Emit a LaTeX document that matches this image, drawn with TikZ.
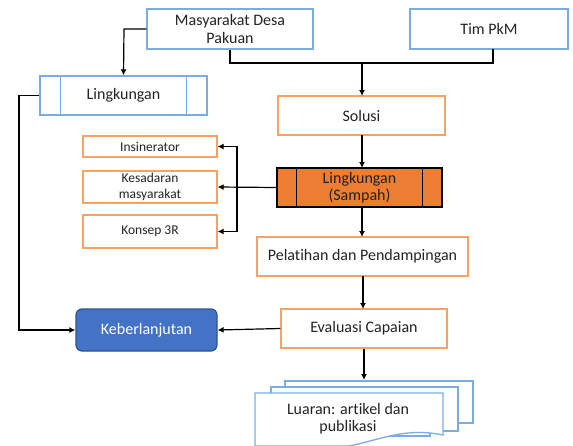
\documentclass[tikz,border=0pt]{standalone}
\usepackage{fontspec}
\setmainfont{Carlito}[Ligatures=NoCommon]
\usetikzlibrary{arrows.meta}
\definecolor{bblue}{RGB}{122,172,226}
\definecolor{borange}{RGB}{244,162,104}
\definecolor{forange}{RGB}{237,125,49}
\definecolor{fblue}{RGB}{68,114,196}
\definecolor{dblue}{RGB}{47,82,143}
\definecolor{txt}{RGB}{35,35,35}
\begin{document}
\begin{tikzpicture}[x=1pt,y=-1pt,
  every node/.style={text=txt,font=\fontsize{16}{17.5}\selectfont,align=center,inner sep=0pt},
  bluebox/.style={draw=bblue,line width=1.3pt,fill=white},
  orangebox/.style={draw=borange,line width=1.3pt,fill=white},
  smallbox/.style={orangebox,font=\fontsize{13.5}{15.5}\selectfont},
  conn/.style={draw=black,line width=1.2pt},
  arr/.style={conn,-{Latex[length=6pt,width=6pt]}}]
\useasboundingbox (0,0) rectangle (573,445);
\fill[white] (0,0) rectangle (573,445);

% top boxes
\node[bluebox,minimum width=166pt,minimum height=40pt] (mas) at (230,29) {Masyarakat Desa\\Pakuan};
\node[bluebox,minimum width=158pt,minimum height=40pt] (tim) at (489,29) {Tim PkM};
% Lingkungan (predefined process)
\node[bluebox,minimum width=167pt,minimum height=39pt] (ling) at (123.5,95.5) {Lingkungan};
\draw[bblue,line width=1.3pt] ([xshift=21pt]ling.north west) -- ([xshift=21pt]ling.south west)
  ([xshift=-21pt]ling.north east) -- ([xshift=-21pt]ling.south east);
% Solusi
\node[orangebox,minimum width=167pt,minimum height=39pt] (sol) at (361.5,115.5) {Solusi};
% Sampah
\node[draw=black,line width=1.2pt,fill=forange,minimum width=165pt,minimum height=39pt] (samp) at (359.5,187.5) {Lingkungan\\(Sampah)};
\draw[black,line width=1.2pt] ([xshift=20pt]samp.north west) -- ([xshift=20pt]samp.south west)
  ([xshift=-20pt]samp.north east) -- ([xshift=-20pt]samp.south east);
% small boxes
\node[smallbox,minimum width=134pt,minimum height=21pt] (ins) at (150,146.5) {Insinerator};
\node[smallbox,minimum width=134pt,minimum height=32pt] (kes) at (150,187) {Kesadaran\\masyarakat};
\node[smallbox,minimum width=134pt,minimum height=33pt] (kon) at (150,231.5) {Konsep 3R};
% Pelatihan
\node[orangebox,minimum width=211pt,minimum height=39pt] (pel) at (362.5,256.5) {Pelatihan dan Pendampingan};
% Evaluasi
\node[orangebox,minimum width=166pt,minimum height=39pt] (eva) at (364,328.5) {Evaluasi Capaian};
% Keberlanjutan
\node[draw=dblue,line width=1.2pt,fill=fblue,rounded corners=6pt,minimum width=141pt,minimum height=42pt,text=white] (keb) at (146.5,330) {Keberlanjutan};

% multidocument
\draw[bblue,line width=1.3pt,fill=white] (285,381) -- (473,381) -- (473,423) -- (440,423) -- (440,430) -- (285,430) -- cycle;
\draw[bblue,line width=1.3pt,fill=white] (271,387) -- (458,387) -- (458,431) -- (430,431) -- (430,436) -- (271,436) -- cycle;
\draw[bblue,line width=1.3pt,fill=white] (255,393) -- (443,393) -- (443,435)
  .. controls (405,427) and (380,440) .. (349,446) -- (255,446) -- cycle;
\node (doc) at (348,418.5) {Luaran: artikel dan\\publikasi};
\coordinate (doctop) at (364,380);

% connectors
\draw[arr] (mas.west) -- (124,29) -- (ling.north);
\draw[conn] (mas.south) -- (230,63) -- (493,63) -- (493,49);
\coordinate (mid) at (362,63);
\draw[arr] (mid) -- (362,96);
\draw[arr] (362,135) -- (362,168);
\draw[arr] (samp.west) -- (kes.east);
\draw[arr] (237,187) |- (ins.east);
\draw[arr] (237,187) |- (kon.east);
\draw[arr] (362,207) -- (362,237);
\draw[arr] (363,276) -- (363,309);
\draw[arr] (eva.west) -- (keb.east);
\draw[arr] (ling.west) -- (19,95.5) -- (19,330) -- (keb.west);
\draw[arr] (eva.south) -- (doctop);
\end{tikzpicture}
\end{document}
